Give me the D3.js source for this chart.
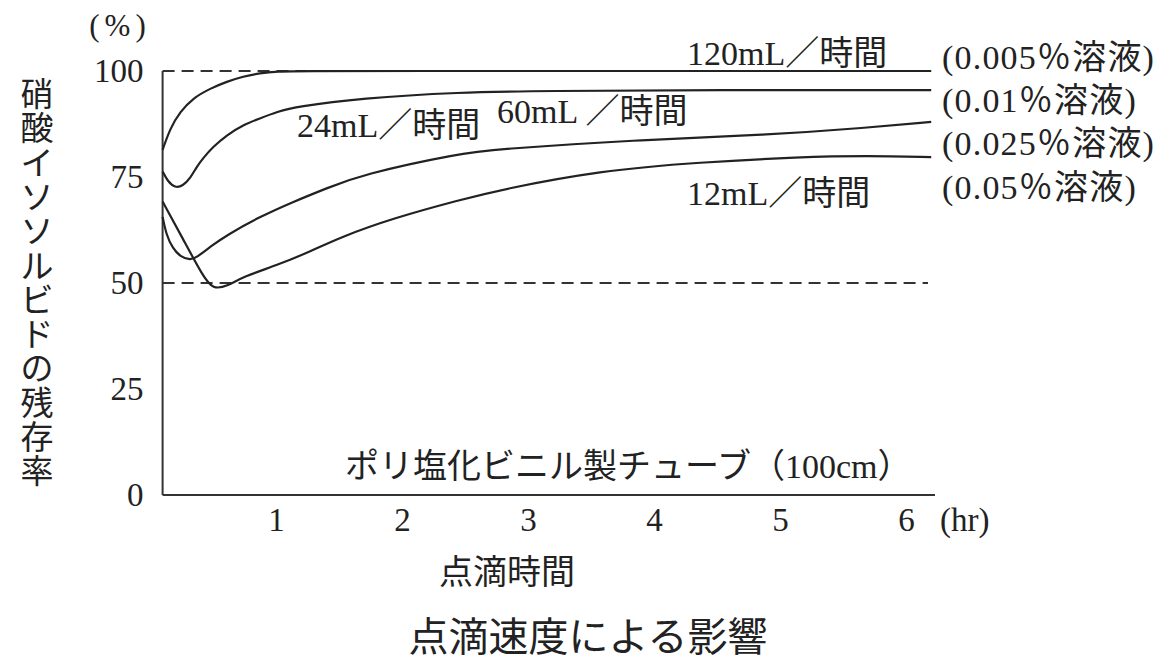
<!DOCTYPE html>
<html>
<head>
<meta charset="utf-8">
<script src="https://cdn.jsdelivr.net/npm/d3@7"></script>
<style>
  body { margin: 0; background: #fff; }
  text { fill: #222; font-family: "Liberation Serif", "Noto Sans CJK JP", serif; }
</style>
</head>
<body>
<div id="chart"></div>
<script>
// 読み取り値（点滴時間 hr / 残存率 %）
const hours120 = [0.1, 0.16, 0.24, 0.34, 0.48, 0.61, 0.74, 0.87, 1.01, 1.2, 2, 4, 6.2];
const rate120  = [81.4, 86.5, 90.4, 93.6, 95.9, 97.5, 98.7, 99.5, 99.9, 100, 100, 100, 100];

const hours60 = [0.1, 0.14, 0.2, 0.26, 0.32, 0.37, 0.42, 0.5, 0.61, 0.74, 0.87, 1.01, 1.16, 1.67, 2.46, 3.1, 4.5, 6.2];
const rate60  = [76.3, 74.0, 72.4, 72.9, 74.7, 77.4, 79.4, 82.1, 84.9, 87.3, 88.8, 90.4, 91.6, 93.6, 95.0, 95.3, 95.5, 95.5];

const hours24 = [0.1, 0.13, 0.18, 0.24, 0.32, 0.37, 0.48, 0.61, 0.87, 1.14, 1.4, 1.67, 2.46, 2.78, 3.83, 4.9, 5.69, 6.2];
const rate24  = [65.6, 61.3, 58.2, 56.2, 55.4, 56.0, 58.6, 61.3, 65.6, 69.2, 72.3, 75.5, 80.6, 81.6, 83.7, 84.9, 86.6, 88];

const hours12 = [0.1, 0.26, 0.42, 0.5, 0.61, 0.74, 1.01, 1.27, 1.51, 1.93, 2.46, 2.78, 3.57, 4.37, 5.16, 5.69, 6.2];
const rate12  = [69.2, 60.5, 51.6, 48.5, 49.2, 51.5, 54.2, 57.4, 60.8, 65.3, 69.6, 72.0, 76.5, 78.5, 79.7, 80, 79.7];

const yTicks = [0, 25, 50, 75, 100];
const xTicks = [1, 2, 3, 4, 5, 6];
const refLevels = [100, 50];
const axisStart = 0.1, axisEnd = 6.23;

const speedLabels = ["120mL／時間", "60mL ／時間", "24mL／時間", "12mL／時間"];
const concLabels = ["0.005", "0.01", "0.025", "0.05"];

const yTitle = "硝酸イソソルビドの残存率";
const xTitle = "点滴時間";
const tubeNote = "ポリ塩化ビニル製チューブ（100cm）";
const caption = "点滴速度による影響";

// 設定
const width = 1167, height = 667;
const svg = d3.select("#chart").append("svg")
  .attr("width", width)
  .attr("height", height);

const x = d3.scaleLinear().domain([0, 6]).range([150, 906]);
const y = d3.scaleLinear().domain([0, 100]).range([495, 71]);

const series = [
  { h: hours120, r: rate120 },
  { h: hours60, r: rate60 },
  { h: hours24, r: rate24 },
  { h: hours12, r: rate12 }
];

// 破線
svg.append("g")
  .selectAll("line")
  .data(refLevels)
  .enter().append("line")
  .attr("x1", x(axisStart))
  .attr("x2", 928)
  .attr("y1", d => y(d))
  .attr("y2", d => y(d))
  .style("stroke", "#333")
  .style("stroke-width", 1.8)
  .style("stroke-dasharray", "12 7");

// 軸
const yAxis = svg.append("g")
  .attr("transform", `translate(${x(axisStart)},0)`)
  .call(d3.axisLeft(y).tickValues(yTicks).tickSize(0).tickPadding(19));
yAxis.select(".domain").remove();
yAxis.selectAll("text").style("font-size", "33px").style("font-family", null);

const xAxis = svg.append("g")
  .attr("transform", `translate(0,${y(0)})`)
  .call(d3.axisBottom(x).tickValues(xTicks).tickFormat(d3.format("d")).tickSize(0).tickPadding(13));
xAxis.select(".domain").remove();
xAxis.selectAll("text").style("font-size", "33px").style("font-family", null);

svg.append("line")
  .attr("x1", x(axisStart)).attr("x2", x(axisStart))
  .attr("y1", y(0)).attr("y2", y(100))
  .style("stroke", "#333").style("stroke-width", 2);
svg.append("line")
  .attr("x1", x(axisStart)).attr("x2", x(axisEnd))
  .attr("y1", y(0)).attr("y2", y(0))
  .style("stroke", "#333").style("stroke-width", 2);

// 曲線（読み取り誤差をならすため B スプライン）
const line = d3.line()
  .x(d => x(d[0]))
  .y(d => y(d[1]))
  .curve(d3.curveBasis);

svg.append("g")
  .selectAll("path")
  .data(series)
  .enter().append("path")
  .attr("d", d => line(d.h.map((h, i) => [h, d.r[i]])))
  .style("fill", "none")
  .style("stroke", "#222")
  .style("stroke-width", 2.2);

// ラベル
const speedPos = [[687, 65], [497, 123], [297, 137], [687, 205]];
svg.append("g")
  .selectAll("text")
  .data(speedLabels)
  .enter().append("text")
  .attr("x", (d, i) => speedPos[i][0])
  .attr("y", (d, i) => speedPos[i][1])
  .style("font-size", "34px")
  .text(d => d);

const concY = [69, 112, 155, 199];
svg.append("g")
  .selectAll("text")
  .data(concLabels)
  .enter().append("text")
  .attr("x", 942)
  .attr("y", (d, i) => concY[i])
  .style("font-size", "34px")
  .style("letter-spacing", "1.2px")
  .text(d => `(${d}％溶液)`);

svg.append("text")
  .attr("x", 345).attr("y", 478)
  .style("font-size", "34px")
  .text(tubeNote);

svg.append("text")
  .attr("x", 120).attr("y", 36)
  .attr("text-anchor", "middle")
  .style("font-size", "31px")
  .style("letter-spacing", "5px")
  .text("(%)");

svg.append("text")
  .attr("x", 940).attr("y", 531)
  .style("font-size", "33px")
  .text("(hr)");

svg.append("text")
  .attr("x", 507).attr("y", 584)
  .attr("text-anchor", "middle")
  .style("font-size", "34px")
  .text(xTitle);

svg.append("text")
  .attr("x", 588).attr("y", 651)
  .attr("text-anchor", "middle")
  .style("font-size", "40px")
  .text(caption);

// 縦書きの軸タイトル
svg.append("g")
  .selectAll("text")
  .data(Array.from(yTitle))
  .enter().append("text")
  .attr("x", 37)
  .attr("y", (d, i) => 95 + i * 34.3)
  .attr("text-anchor", "middle")
  .attr("dominant-baseline", "central")
  .style("font-size", "33px")
  .text(d => d);
</script>
</body>
</html>
